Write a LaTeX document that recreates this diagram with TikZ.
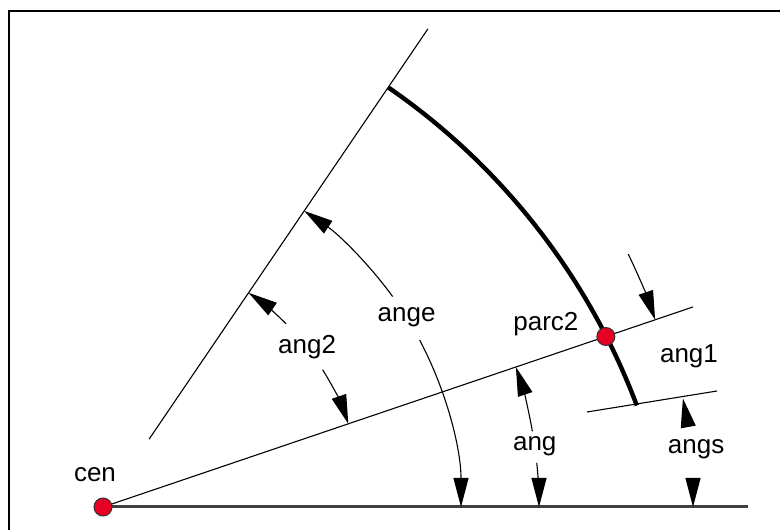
\documentclass[tikz,border=0pt]{standalone}
\usepackage{fontspec}
\setmainfont{Liberation Sans}
\usetikzlibrary{arrows.meta,calc,positioning}
\definecolor{pointred}{RGB}{232,0,36}
\definecolor{baseink}{RGB}{64,64,64}
\newcommand{\dimarc}[3]{\draw[dimline] ($(cen)+(#1:#3)$) arc[start angle=#1,end angle=#2,radius=#3];}
\newcommand{\radline}[3]{\draw[thinline] ($(cen)+(#1:#2)$) -- ($(cen)+(#1:#3)$);}
\newcommand{\anglabel}[4]{\node[lbl] (#1) at ($(cen)+(#2:#3)$) {#4};}

\begin{document}
\begin{tikzpicture}[x=0.5pt,y=0.5pt,
	lbl/.style={font=\fontsize{13}{15}\selectfont,inner sep=0pt},
	thinline/.style={line width=0.55pt},
	dimline/.style={line width=0.55pt,-{Triangle[length=14.5pt,width=7.5pt]}},
	dot/.style={circle,draw=black!80,fill=pointred,line width=0.5pt,minimum size=9pt,inner sep=0pt}]
		\useasboundingbox (0,0) rectangle (780,529);
		\clip (0,0) rectangle (780,529);
		\draw[line width=1pt] (9,-10) -- (9,518) -- (790,518);
		\coordinate (cen) at (103,22);
		\coordinate (arcc) at (5,-114);
		\draw[line width=1.5pt,baseink] (cen) -- ++(645,0) coordinate (baseend);
		\radline{18.73}{0}{623}
		\radline{55.8}{82}{578}
		\draw[thinline] (587,117) coordinate (angsa) -- (717,138) coordinate (angsb);
		\draw[line width=2.2pt] ($(arcc)+(55.4:675)$) arc[start angle=55.4,end angle=20.6,radius=675];
		\dimarc{36}{55.8}{358} \dimarc{27.8}{0}{358}
		\dimarc{45}{55.8}{259} \dimarc{32}{18.73}{259}
		\dimarc{10}{18.73}{436} \dimarc{5.8}{0}{436}
		\dimarc{25.7}{18.73}{583}
		\dimarc{7.8}{10.6}{590} \dimarc{2.8}{0}{590}
		\anglabel{ange}{32}{358}{ange}
		\anglabel{angtwo}{38}{259}{ang2}
		\anglabel{ang}{8}{436}{ang}
		\anglabel{angs}{5.6}{596}{angs}
		\anglabel{angone}{14.4}{605}{ang1}
		\node[dot] (cendot) at (cen) {};
		\node[dot] (parc) at ($(cen)+(18.73:531)$) {};
		\node[lbl] (cenlbl) at ($(cen)+(-8,32)$) {cen};
		\node[lbl] (parclbl) at ($(parc)+(-60,12)$) {parc2};
\end{tikzpicture}
\end{document}
